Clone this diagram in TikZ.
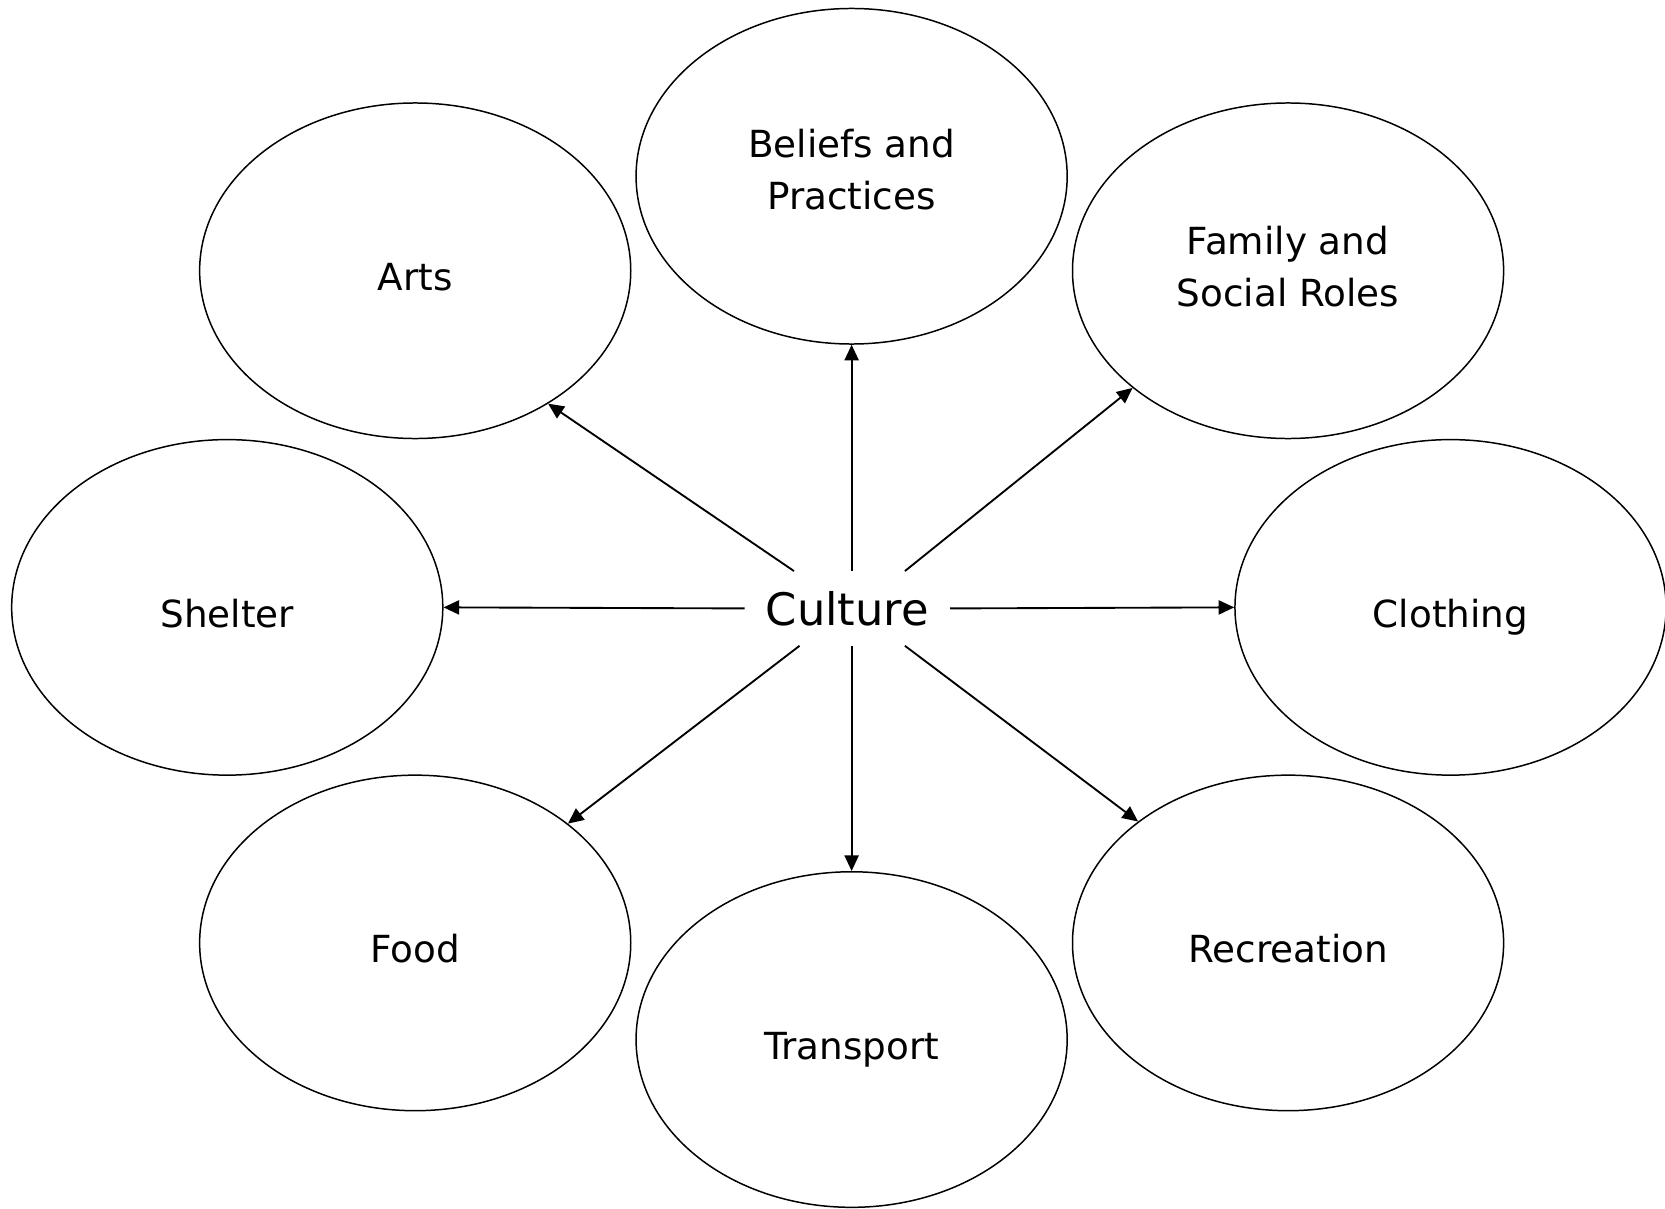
\documentclass[tikz,border=0pt]{standalone}
\usepackage{fontspec}
\setmainfont{DejaVu Sans}
\usetikzlibrary{arrows.meta,shapes.geometric}

\begin{document}
\begin{tikzpicture}[>={Triangle[length=4.2pt,width=3.8pt]},font=\fontsize{10}{14}\selectfont,
  topic/.style={draw,ellipse,line width=0.4pt,minimum width=4.06cm,minimum height=3.16cm,inner sep=0pt,align=center},
  single/.style={topic,text height=10.7pt,text depth=0pt},
  link/.style={->,line width=0.5pt}]
\useasboundingbox (0,0) rectangle (15.68,11.38);
\node[font=\fontsize{12}{14}\selectfont,minimum width=1.92cm,minimum height=0.69cm] (culture) at (7.98,5.65) {Culture};
\node[topic,text depth=3.9pt] (beliefs) at (8.02,9.72) {Beliefs and\\Practices};
\node[single] (arts) at (3.91,8.83) {Arts};
\node[topic,text depth=2.3pt] (family) at (12.13,8.83) {Family and\\Social Roles};
\node[single] (shelter) at (2.14,5.66) {Shelter};
\node[single] (clothing) at (13.66,5.66) {Clothing};
\node[single] (food) at (3.91,2.50) {Food};
\node[single] (recreation) at (12.13,2.50) {Recreation};
\node[single] (transport) at (8.02,1.59) {Transport};
\draw[link] (culture.145) -- (arts.-45);
\draw[link] (culture.north -| beliefs.south) -- (beliefs.south);
\draw[link] (culture.33) -- (family.-143);
\draw[link] (culture.west) -- (shelter.east);
\draw[link] (culture.east) -- (clothing.west);
\draw[link] (culture.218) -- (food.38);
\draw[link] (culture.south -| transport.north) -- (transport.north);
\draw[link] (culture.-33) -- (recreation.141);
\end{tikzpicture}
\end{document}
